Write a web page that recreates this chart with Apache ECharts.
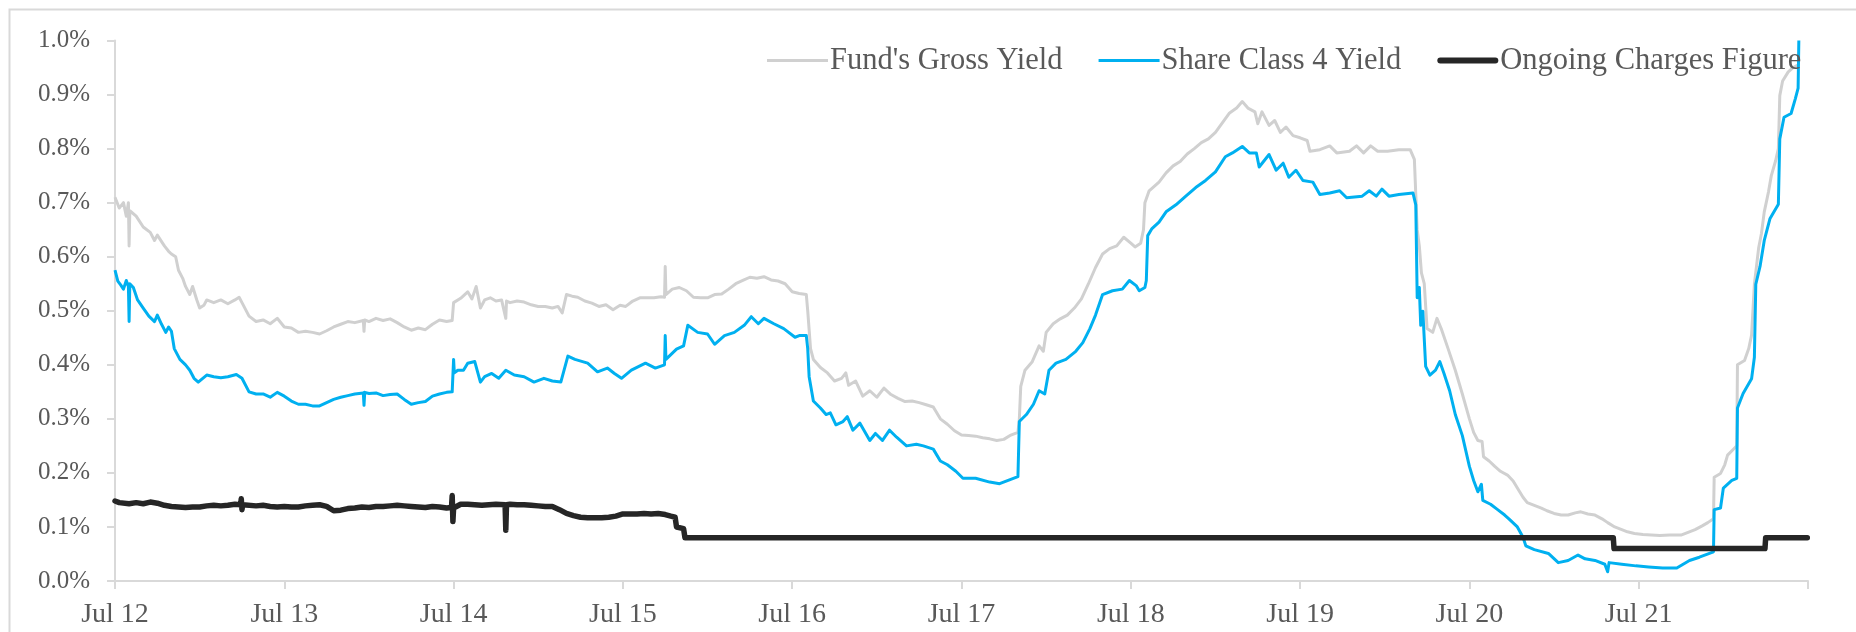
<!DOCTYPE html>
<html>
<head>
<meta charset="utf-8">
<script src="https://cdn.jsdelivr.net/npm/echarts@6/dist/echarts.min.js"></script>
<style>
html,body{margin:0;padding:0;background:#fff;}
#chart{width:1856px;height:632px;}
</style>
</head>
<body>
<div id="chart"></div>
<script>
// x = months since Jul 2012, y = yield in %
const xTickLabels = ['Jul 12','Jul 13','Jul 14','Jul 15','Jul 16','Jul 17','Jul 18','Jul 19','Jul 20','Jul 21',''];
const seriesNames = ["Fund's Gross Yield", 'Share Class 4 Yield', 'Ongoing Charges Figure'];

const grossYield = [
[0,0.71],[0.3,0.69],[0.6,0.70],[0.8,0.675],[0.95,0.70],[1.0,0.62],[1.05,0.685],[1.5,0.675],[2,0.655],[2.5,0.645],[2.8,0.63],[3,0.64],[3.5,0.62],[3.8,0.61],[4,0.605],[4.3,0.60],[4.5,0.575],[4.8,0.56],[5,0.545],[5.3,0.53],[5.5,0.545],[5.8,0.52],[6,0.505],[6.3,0.51],[6.5,0.52],[7,0.515],[7.5,0.52],[8,0.513],[8.5,0.52],[8.8,0.525],[9,0.515],[9.5,0.49],[10,0.48],[10.5,0.483],[11,0.476],[11.5,0.486],[12,0.47],[12.5,0.468],[13,0.46],[13.5,0.462],[14,0.46],[14.5,0.457],[15,0.463],[15.5,0.47],[16,0.475],[16.5,0.48],[17,0.478],[17.6,0.482],[17.65,0.462],[17.7,0.483],[18,0.48],[18.5,0.486],[19,0.482],[19.5,0.485],[20,0.478],[20.5,0.47],[21,0.464],[21.5,0.468],[22,0.465],[22.5,0.475],[23,0.483],[23.5,0.48],[23.9,0.482],
[24,0.515],[24.5,0.523],[25,0.535],[25.3,0.522],[25.6,0.545],[25.9,0.505],[26.2,0.52],[26.6,0.524],[27,0.518],[27.4,0.52],[27.7,0.486],[27.75,0.518],[28,0.515],[28.5,0.518],[29,0.516],[29.5,0.511],[30,0.508],[30.5,0.508],[31,0.505],[31.4,0.508],[31.7,0.496],[32,0.53],[32.4,0.527],[32.8,0.525],[33.3,0.518],[33.8,0.514],[34.3,0.508],[34.8,0.511],[35.3,0.502],[35.8,0.51],[36.2,0.508],[36.7,0.518],[37.2,0.524],[37.7,0.524],[38.2,0.524],[38.7,0.526],[38.95,0.525],[39,0.582],[39.05,0.53],[39.5,0.54],[40,0.543],[40.5,0.537],[41,0.525],[41.5,0.524],[42,0.524],[42.5,0.53],[43,0.531],[43.5,0.54],[44,0.55],[44.5,0.556],[45,0.562],[45.5,0.56],[46,0.563],[46.5,0.557],[47,0.555],[47.5,0.55],
[48,0.535],[48.5,0.532],[49,0.53],[49.1,0.5],[49.3,0.43],[49.5,0.41],[50,0.395],[50.5,0.385],[51,0.37],[51.5,0.375],[51.8,0.385],[52,0.362],[52.5,0.37],[53,0.342],[53.5,0.352],[54,0.34],[54.5,0.357],[55,0.345],[55.5,0.338],[56,0.332],[56.5,0.333],[57,0.33],[57.5,0.326],[58,0.322],[58.5,0.30],[59,0.29],[59.5,0.278],[60,0.27],[60.5,0.269],[61,0.268],[61.5,0.265],[62,0.263],[62.5,0.26],[63,0.262],[63.5,0.27],[64,0.275],[64.1,0.30],[64.2,0.36],[64.5,0.39],[65,0.405],[65.5,0.435],[65.8,0.425],[66,0.46],[66.5,0.476],[67,0.485],[67.5,0.492],[68,0.505],[68.5,0.522],[69,0.55],[69.5,0.58],[70,0.605],[70.5,0.615],[71,0.62],[71.5,0.636],
[72,0.625],[72.3,0.618],[72.7,0.625],[72.9,0.65],[73.0,0.70],[73.3,0.722],[74,0.738],[74.5,0.755],[75,0.768],[75.5,0.776],[76,0.79],[76.5,0.80],[77,0.811],[77.5,0.818],[78,0.83],[78.5,0.848],[79,0.866],[79.5,0.875],[79.9,0.887],[80.3,0.875],[80.8,0.868],[81,0.846],[81.3,0.868],[81.8,0.843],[82.2,0.852],[82.6,0.83],[83,0.84],[83.5,0.824],[84,0.82],[84.5,0.815],[84.7,0.795],[85.4,0.798],[86.1,0.805],[86.6,0.792],[87.5,0.795],[88,0.805],[88.5,0.792],[89,0.805],[89.5,0.795],[90.2,0.795],[91,0.798],[91.8,0.798],[92.1,0.78],[92.3,0.65],[92.45,0.62],[92.6,0.57],[92.8,0.55],[93.0,0.467],[93.4,0.46],[93.7,0.486],[94,0.467],[94.5,0.429],[95,0.39],[95.5,0.346],
[96,0.30],[96.3,0.275],[96.6,0.26],[96.9,0.258],[97,0.23],[97.4,0.222],[97.8,0.212],[98.2,0.203],[98.7,0.196],[99.1,0.185],[99.4,0.172],[99.8,0.155],[100.1,0.145],[100.6,0.14],[101.1,0.135],[101.5,0.13],[102,0.125],[102.5,0.122],[103,0.122],[103.5,0.126],[103.9,0.128],[104.4,0.124],[104.9,0.122],[105.4,0.115],[105.8,0.108],[106.3,0.1],[106.8,0.095],[107.2,0.091],[107.7,0.088],[108.3,0.086],[108.9,0.085],[109.5,0.084],[110.2,0.085],[111,0.085],[111.5,0.09],[112,0.095],[112.5,0.102],[112.9,0.108],[113.3,0.115],[113.35,0.192],[113.8,0.199],[114.1,0.215],[114.3,0.233],[114.8,0.246],[114.95,0.25],[115.0,0.40],[115.5,0.408],[115.8,0.43],[116,0.455],[116.2,0.549],[116.5,0.616],[116.7,0.643],[116.9,0.683],[117.2,0.72],[117.4,0.75],[117.7,0.777],[117.9,0.80],[118,0.898],[118.2,0.925],[118.6,0.942],[118.9,0.949],[119.3,0.955]
];

const shareClass4Yield = [
[0,0.575],[0.2,0.555],[0.4,0.548],[0.6,0.54],[0.8,0.556],[0.95,0.545],[1.0,0.48],[1.05,0.55],[1.3,0.543],[1.6,0.52],[2,0.505],[2.4,0.49],[2.8,0.48],[3,0.492],[3.3,0.475],[3.6,0.46],[3.8,0.47],[4,0.462],[4.2,0.43],[4.6,0.41],[5,0.40],[5.3,0.39],[5.6,0.375],[5.9,0.368],[6.5,0.381],[7,0.378],[7.5,0.376],[8,0.378],[8.6,0.382],[9,0.375],[9.5,0.35],[10,0.346],[10.5,0.346],[11,0.34],[11.5,0.349],[12,0.342],[12.5,0.333],[13,0.327],[13.5,0.327],[14,0.324],[14.5,0.324],[15,0.33],[15.5,0.336],[16,0.34],[16.5,0.343],[17,0.346],[17.6,0.348],[17.65,0.325],[17.7,0.349],[18,0.347],[18.5,0.348],[19,0.343],[19.5,0.345],[20,0.346],[20.5,0.336],[21,0.327],[21.5,0.33],[22,0.332],[22.5,0.342],[23,0.346],[23.5,0.349],[23.9,0.35],
[24,0.41],[24.05,0.385],[24.3,0.39],[24.7,0.39],[25,0.403],[25.5,0.406],[25.9,0.368],[26.2,0.378],[26.7,0.384],[27.2,0.375],[27.7,0.39],[28.3,0.381],[29,0.378],[29.7,0.368],[30.4,0.375],[31,0.37],[31.6,0.368],[32.1,0.416],[32.6,0.41],[33.5,0.403],[34.2,0.387],[34.9,0.394],[35.4,0.384],[35.9,0.375],[36.6,0.39],[37.6,0.403],[38.3,0.394],[38.95,0.40],[39,0.454],[39.05,0.41],[39.8,0.429],[40.3,0.435],[40.6,0.473],[41.3,0.46],[42,0.457],[42.5,0.438],[43.2,0.454],[43.9,0.46],[44.6,0.473],[45.1,0.489],[45.6,0.476],[46,0.486],[46.7,0.476],[47.4,0.467],
[48.2,0.451],[48.5,0.454],[49,0.454],[49.1,0.43],[49.2,0.378],[49.5,0.333],[50,0.32],[50.4,0.308],[50.7,0.311],[51.1,0.289],[51.6,0.295],[51.9,0.304],[52.3,0.279],[52.8,0.292],[53.5,0.26],[53.9,0.273],[54.4,0.26],[54.9,0.279],[55.4,0.266],[56.1,0.25],[56.8,0.253],[57.3,0.25],[58,0.244],[58.5,0.222],[59,0.215],[59.6,0.203],[60.1,0.19],[61,0.19],[62,0.183],[62.7,0.18],[63.4,0.187],[64,0.193],[64.1,0.295],[64.6,0.308],[65.1,0.327],[65.5,0.352],[65.9,0.346],[66.2,0.39],[66.7,0.403],[67.4,0.41],[68.1,0.425],[68.6,0.441],[69.1,0.467],[69.5,0.492],[70,0.53],[70.7,0.537],[71.4,0.54],[71.9,0.556],
[72.4,0.546],[72.6,0.537],[73,0.543],[73.1,0.556],[73.2,0.639],[73.5,0.652],[74,0.664],[74.5,0.683],[75.2,0.696],[75.9,0.712],[76.6,0.728],[77.3,0.741],[78,0.757],[78.7,0.785],[79.2,0.792],[79.9,0.804],[80.4,0.792],[80.9,0.792],[81.1,0.766],[81.8,0.789],[82.3,0.76],[82.8,0.773],[83.2,0.747],[83.7,0.76],[84.2,0.741],[84.9,0.738],[85.4,0.715],[86.1,0.718],[86.8,0.722],[87.3,0.709],[88.4,0.712],[88.9,0.722],[89.4,0.712],[89.8,0.725],[90.3,0.712],[91,0.715],[92,0.718],[92.2,0.696],[92.3,0.524],[92.45,0.543],[92.55,0.473],[92.7,0.499],[92.9,0.397],[93.2,0.381],[93.6,0.39],[93.9,0.406],[94.2,0.384],[94.6,0.352],[95,0.308],[95.5,0.269],
[96,0.212],[96.3,0.186],[96.6,0.165],[96.85,0.179],[96.95,0.149],[97.5,0.142],[98,0.132],[98.5,0.122],[98.8,0.115],[99.4,0.10],[99.8,0.081],[100,0.065],[100.6,0.058],[101.6,0.051],[102.3,0.034],[103,0.038],[103.7,0.048],[104.2,0.041],[104.9,0.038],[105.6,0.031],[105.8,0.017],[105.9,0.034],[106.8,0.031],[107.8,0.028],[108.7,0.026],[109.7,0.024],[110.7,0.024],[111.6,0.038],[112.3,0.044],[113.3,0.054],[113.35,0.132],[113.8,0.135],[114.0,0.172],[114.6,0.186],[114.95,0.19],[115.0,0.32],[115.4,0.347],[116.0,0.374],[116.2,0.414],[116.3,0.549],[116.6,0.582],[116.9,0.63],[117.3,0.67],[117.9,0.697],[118.0,0.818],[118.3,0.858],[118.8,0.865],[119.1,0.892],[119.3,0.912],[119.35,1.0]
];

const ongoingCharges = [
[0,0.148],[0.3,0.145],[1,0.143],[1.5,0.145],[2,0.143],[2.5,0.146],[3,0.144],[3.5,0.14],[4,0.138],[4.5,0.137],[5,0.136],[5.5,0.137],[6,0.137],[6.5,0.139],[7,0.14],[7.5,0.139],[8,0.14],[8.5,0.142],[8.9,0.141],[8.95,0.152],[9.0,0.132],[9.05,0.141],[10,0.139],[10.5,0.14],[11,0.138],[11.5,0.137],[12,0.138],[12.5,0.137],[13,0.137],[13.5,0.139],[14,0.14],[14.5,0.141],[15,0.138],[15.5,0.13],[16,0.131],[16.5,0.134],[17,0.135],[17.5,0.137],[18,0.136],[18.5,0.138],[19,0.138],[19.5,0.139],[20,0.14],[20.5,0.139],[21,0.138],[21.5,0.137],[22,0.136],[22.5,0.138],[23,0.137],[23.5,0.135],[23.85,0.136],[23.9,0.158],[23.95,0.11],[24.0,0.135],
[24.5,0.142],[25,0.142],[25.5,0.141],[26,0.14],[26.5,0.141],[27,0.142],[27.65,0.141],[27.7,0.094],[27.75,0.141],[28,0.142],[28.5,0.141],[29,0.141],[29.5,0.14],[30,0.139],[30.5,0.138],[31,0.138],[31.5,0.132],[32,0.125],[32.5,0.121],[33,0.118],[33.5,0.117],[34,0.117],[34.5,0.117],[35,0.118],[35.5,0.12],[36,0.124],[36.5,0.124],[37,0.124],[37.5,0.125],[38,0.124],[38.5,0.125],[39,0.123],[39.4,0.12],[39.7,0.118],[39.8,0.1],[40.3,0.097],[40.4,0.08],
[106.2,0.08],[106.25,0.06],[116.95,0.06],[117.0,0.08],[119.95,0.08]
];

const yTicks = {min: 0, max: 1.0, interval: 0.1};
const xTicks = {min: 0, max: 120, interval: 12};

const FONT = "'Liberation Serif', 'Times New Roman', serif";
const LABEL = '#595959';
const AXIS = '#d9d9d9';
const COLORS = ['#d0d0d0', '#00b0f0', '#262626'];
const LEGEND_ICONS = [
  'path://M0,0 H61 V3 H0 Z',
  'path://M0,0 H61 V3 H0 Z',
  'path://M3,0 H58 A3,3 0 0 1 58,6 H3 A3,3 0 0 1 3,0 Z'
];

const chart = echarts.init(document.getElementById('chart'), null, {renderer: 'canvas'});
chart.setOption({
  animation: false,
  backgroundColor: '#ffffff',
  graphic: [{
    type: 'rect', left: 7, top: 7, silent: true,
    shape: {width: 1900, height: 700},
    style: {fill: 'none', stroke: '#d9d9d9', lineWidth: 2}
  }],
  grid: {left: 115, right: 48, top: 40.5, bottom: 51, containLabel: false},
  legend: {
    left: 762, top: 40,
    itemWidth: 61, itemHeight: 14, itemGap: 36,
    symbolKeepAspect: true,
    textStyle: {fontFamily: FONT, fontSize: 30.5, color: LABEL, padding: [0,0,0,-3]},
    data: seriesNames.map((n, i) => ({name: n, icon: LEGEND_ICONS[i], itemStyle: {color: COLORS[i]}}))
  },
  xAxis: {
    type: 'value', min: xTicks.min, max: xTicks.max, interval: xTicks.interval,
    axisLine: {show: true, lineStyle: {color: AXIS, width: 2}},
    axisTick: {show: true, length: 8, lineStyle: {color: AXIS, width: 2}},
    splitLine: {show: false},
    axisLabel: {
      fontFamily: FONT, fontSize: 28, color: LABEL, margin: 20,
      formatter: v => xTickLabels[Math.round(v / xTicks.interval)] || ''
    }
  },
  yAxis: {
    type: 'value', min: yTicks.min, max: yTicks.max, interval: yTicks.interval,
    axisLine: {show: true, lineStyle: {color: AXIS, width: 2}},
    axisTick: {show: true, length: 8, lineStyle: {color: AXIS, width: 2}},
    splitLine: {show: false},
    axisLabel: {
      fontFamily: FONT, fontSize: 25, color: LABEL, margin: 25,
      formatter: v => v.toFixed(1) + '%'
    }
  },
  series: [
    {name: seriesNames[0], type: 'line', data: grossYield, showSymbol: false, symbol: 'none',
     lineStyle: {color: COLORS[0], width: 3, join: 'round'}, itemStyle: {color: COLORS[0]}, z: 2},
    {name: seriesNames[1], type: 'line', data: shareClass4Yield, showSymbol: false, symbol: 'none',
     lineStyle: {color: COLORS[1], width: 3, join: 'round'}, itemStyle: {color: COLORS[1]}, z: 3},
    {name: seriesNames[2], type: 'line', data: ongoingCharges, showSymbol: false, symbol: 'none',
     lineStyle: {color: COLORS[2], width: 5.5, join: 'round', cap: 'round'}, itemStyle: {color: COLORS[2]}, z: 4}
  ]
});
</script>
</body>
</html>
